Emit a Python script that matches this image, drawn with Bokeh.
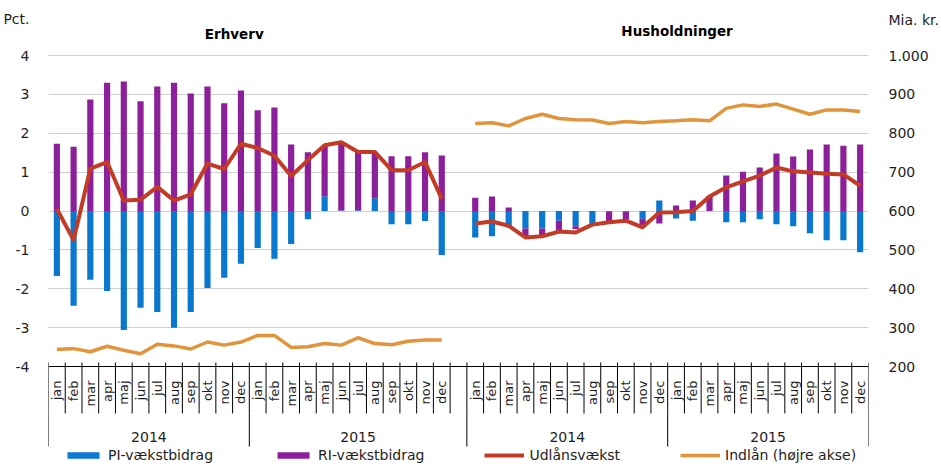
import math
from bokeh.plotting import figure
from bokeh.models import (Range1d, LinearAxis, FixedTicker, ColumnDataSource,
                          Legend, LegendItem, Label)
from bokeh.embed import file_html
from bokeh.resources import INLINE

# ---------------- data ----------------
months = ["jan", "feb", "mar", "apr", "maj", "jun", "jul", "aug", "sep", "okt", "nov", "dec"]
years = ["2014", "2015"]
panels = ["Erhverv", "Husholdninger"]

erh_pi = [-1.67, -2.44, -1.77, -2.06, -3.06, -2.49, -2.60, -3.00, -2.60, -1.98, -1.72, -1.36,
          -0.95, -1.23, -0.85, -0.21, 0.38, 0.01, 0.02, 0.33, -0.34, -0.34, -0.26, -1.13]
erh_ri = [1.73, 1.65, 2.87, 3.30, 3.33, 2.82, 3.20, 3.30, 3.02, 3.20, 2.77, 3.10,
          2.59, 2.66, 1.71, 1.51, 1.27, 1.72, 1.50, 1.19, 1.41, 1.41, 1.51, 1.43]
erh_udl = [0.05, -0.75, 1.09, 1.26, 0.27, 0.29, 0.62, 0.27, 0.43, 1.22, 1.08, 1.73,
           1.62, 1.42, 0.90, 1.31, 1.69, 1.77, 1.52, 1.52, 1.05, 1.05, 1.26, 0.31]
erh_ind = [244, 246, 238, 252, 242, 233, 257, 253, 245, 263, 255, 263,
           280, 280, 249, 251, 259, 255, 274, 259, 256, 265, 268, 268]

hus_pi = [-0.68, -0.65, -0.42, -0.45, -0.45, -0.25, -0.39, -0.32, -0.02, -0.02, -0.20, 0.27,
          -0.19, -0.25, 0.0, -0.29, -0.29, -0.21, -0.34, -0.39, -0.57, -0.75, -0.75, -1.06]
hus_ri = [0.34, 0.37, 0.09, -0.19, -0.17, -0.26, -0.07, -0.03, -0.25, -0.20, -0.20, -0.32,
          0.14, 0.27, 0.39, 0.91, 1.01, 1.12, 1.48, 1.40, 1.58, 1.71, 1.68, 1.71]
hus_udl = [-0.32, -0.27, -0.38, -0.68, -0.65, -0.53, -0.55, -0.35, -0.29, -0.25, -0.42, -0.04,
           -0.03, 0.0, 0.37, 0.61, 0.76, 0.91, 1.12, 1.02, 0.99, 0.96, 0.94, 0.65]
hus_ind = [825, 827, 819, 838, 849, 838, 835, 834, 825, 830, 827, 830,
           832, 835, 832, 864, 873, 869, 875, 862, 849, 860, 860, 856]

left_ticks = [-4, -3, -2, -1, 0, 1, 2, 3, 4]
right_ticks = [200, 300, 400, 500, 600, 700, 800, 900, 1000]
right_labels = ["200", "300", "400", "500", "600", "700", "800", "900", "1.000"]
left_unit = "Pct."
right_unit = "Mia. kr."
legend_labels = ["PI-vækstbidrag", "RI-vækstbidrag", "Udlånsvækst", "Indlån (højre akse)"]

# ---------------- styling ----------------
FONT = "DejaVu Sans"
C_PI = "#0A78CF"
C_RI = "#8C209B"
C_UDL = "#C33B24"
C_IND = "#E2943B"
GRID = "#D0D0D0"
TXT = "#1E1E1E"

# ---------------- positions ----------------
n = len(months) * len(years)
gap = 1
erh_x = list(range(n))
hus_x = [n + gap + i for i in range(n)]
ncat = 2 * n + gap


def stack(pi, ri):
    pb, pt, rb, rt = [], [], [], []
    for a, b in zip(pi, ri):
        pb.append(0.0)
        pt.append(a)
        base = max(a, 0.0) if b >= 0 else min(a, 0.0)
        rb.append(base)
        rt.append(base + b)
    return pb, pt, rb, rt


e_pb, e_pt, e_rb, e_rt = stack(erh_pi, erh_ri)
h_pb, h_pt, h_rb, h_rt = stack(hus_pi, hus_ri)

bars = ColumnDataSource(dict(
    x=erh_x + hus_x,
    pi_b=e_pb + h_pb, pi_t=e_pt + h_pt,
    ri_b=e_rb + h_rb, ri_t=e_rt + h_rt,
))
nan = float("nan")
lines = ColumnDataSource(dict(
    x=erh_x + [n] + hus_x,
    udl=erh_udl + [nan] + hus_udl,
    ind=erh_ind + [nan] + hus_ind,
))

# ---------------- pixel geometry ----------------
W, H = 941, 470
FL, FR = 45, 874            # frame left/right (px)
PX = 38.875                 # px per percentage point
Y4 = 55                     # px row of the "4" gridline


def py_to_y(py):
    return 4 + (Y4 - py) / PX


def to_right(y):
    return 600 + 100 * y


Y1 = py_to_y(0)
Y0 = py_to_y(H)

p = figure(width=W, height=H, output_backend="svg", toolbar_location=None,
           x_range=Range1d(-0.5, ncat - 0.5), y_range=Range1d(Y0, Y1),
           x_axis_location=None,
           min_border_left=FL, min_border_right=W - FR, min_border_top=0,
           min_border_bottom=0)
p.outline_line_color = None
p.xgrid.grid_line_color = None
p.ygrid.grid_line_color = GRID
p.ygrid.grid_line_width = 1
p.ygrid.ticker = FixedTicker(ticks=left_ticks)

p.extra_y_ranges = {"right": Range1d(to_right(Y0), to_right(Y1))}

# unit captions sit on the axes as extra tick labels at the top
y_unit_l = round(py_to_y(18.7), 4)
y_unit_r = round(to_right(py_to_y(19.0)), 2)

ya = p.yaxis[0]
ya.ticker = FixedTicker(ticks=left_ticks + [y_unit_l])
ov = {t: str(t) for t in left_ticks}
ov[y_unit_l] = left_unit
ya.major_label_overrides = ov

ra = LinearAxis(y_range_name="right", ticker=FixedTicker(ticks=right_ticks + [y_unit_r]))
ovr = dict(zip(right_ticks, right_labels))
ovr[y_unit_r] = right_unit
ra.major_label_overrides = ovr
p.add_layout(ra, "right")
for ax, st in ((ya, 13), (ra, 14)):
    ax.axis_line_color = None
    ax.major_tick_line_color = None
    ax.minor_tick_line_color = None
    ax.major_label_text_font = FONT
    ax.major_label_text_font_size = "14px"
    ax.major_label_text_color = TXT
    ax.major_label_standoff = st

BW = 0.37
r_pi = p.vbar(x="x", bottom="pi_b", top="pi_t", width=BW, source=bars,
              fill_color=C_PI, line_color=None)
r_ri = p.vbar(x="x", bottom="ri_b", top="ri_t", width=BW, source=bars,
              fill_color=C_RI, line_color=None)

# Excel-style multi-level category axis
p.segment(x0=-0.5, y0=-4, x1=ncat - 0.5, y1=-4, line_color="black", line_width=1)
bounds = [k - 0.5 for k in range(ncat + 1)]
y_tick_top = py_to_y(362)
y_month_bot = py_to_y(413)
y_year_bot = py_to_y(446)
group_edges = [-0.5, len(months) - 0.5, n + gap - 0.5, n + gap + len(months) - 0.5, ncat - 0.5]
p.segment(x0=bounds, y0=[y_tick_top] * len(bounds), x1=bounds,
          y1=[y_month_bot] * len(bounds), line_color="black", line_width=1)
p.segment(x0=group_edges, y0=[y_month_bot] * len(group_edges), x1=group_edges,
          y1=[y_year_bot] * len(group_edges), line_color="black", line_width=1)

month_src = ColumnDataSource(dict(x=erh_x + hus_x, t=months * 4))
p.text(x="x", y=py_to_y(380), text="t", source=month_src, angle=math.pi / 2,
       text_align="right", text_baseline="middle", text_font_size="13px",
       text_color=TXT, text_font={"value": FONT})
year_centers = [(group_edges[i] + group_edges[i + 1]) / 2 for i in range(4)]
year_src = ColumnDataSource(dict(x=year_centers, t=years * 2))
p.text(x="x", y=py_to_y(436.7), text="t", source=year_src,
       text_align="center", text_baseline="middle", text_font_size="14px",
       text_color=TXT, text_font={"value": FONT})

r_udl = p.line(x="x", y="udl", source=lines, line_color=C_UDL, line_width=4,
               line_join="round")
r_ind = p.line(x="x", y="ind", source=lines, y_range_name="right",
               line_color=C_IND, line_width=3.5, line_join="round")

# panel titles
p.add_layout(Label(x=10.6, y=py_to_y(33), text=panels[0], text_font=FONT,
                   text_font_size="13.5px", text_font_style="bold", text_color="black",
                   text_align="center", text_baseline="middle"))
p.add_layout(Label(x=37.06, y=py_to_y(30.5), text=panels[1], text_font=FONT,
                   text_font_size="13.5px", text_font_style="bold", text_color="black",
                   text_align="center", text_baseline="middle"))

# legend along the bottom of the frame
lg = Legend(items=[LegendItem(label=lab, renderers=[r])
                   for lab, r in zip(legend_labels, (r_pi, r_ri, r_udl, r_ind))],
            location=(15, 7), orientation="horizontal", border_line_color=None,
            background_fill_alpha=0, padding=0, margin=0, spacing=60,
            glyph_width=40, glyph_height=8, label_height=17, label_standoff=5,
            label_text_font=FONT, label_text_font_size="14px",
            label_text_color=TXT)
p.add_layout(lg, "center")

open("out.html", "w").write(file_html(p, INLINE))
